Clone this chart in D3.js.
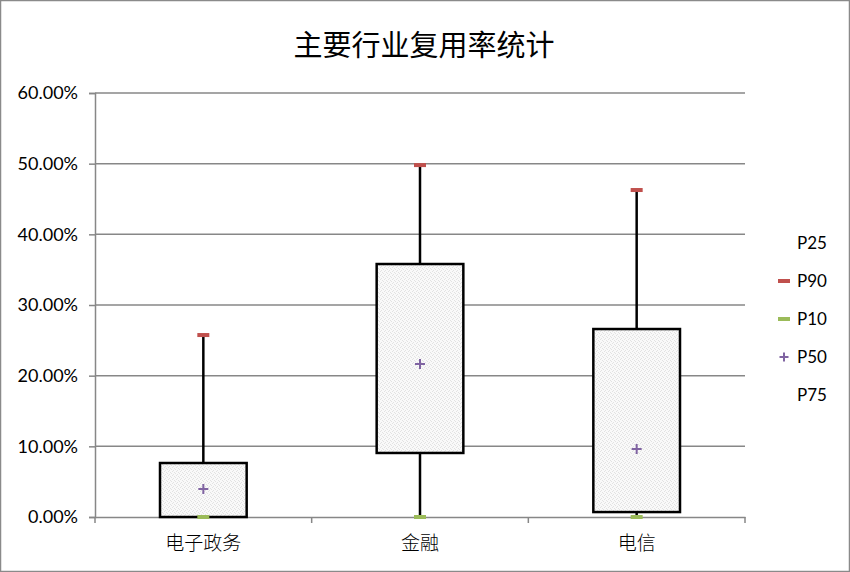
<!DOCTYPE html>
<html>
<head>
<meta charset="utf-8">
<script src="https://cdn.jsdelivr.net/npm/d3@7"></script>
<style>
  body { margin: 0; background: #fff; }
  svg { display: block; }
</style>
</head>
<body>
<div id="chart"></div>
<script>
// Chart data
const categories = ["电子政务", "金融", "电信"];
const p10 = [0.0000, 0.0000, 0.0000];
const p25 = [0.0000, 0.0906, 0.0070];
const p50 = [0.0396, 0.2165, 0.0962];
const p75 = [0.0764, 0.3580, 0.2660];
const p90 = [0.2575, 0.4980, 0.4627];
const yTicks = [0, 0.1, 0.2, 0.3, 0.4, 0.5, 0.6];
const legendNames = ["P25", "P90", "P10", "P50", "P75"];

const W = 850, H = 572;
const margin = { top: 93, right: 105, bottom: 55, left: 95 };
const width = W - margin.left - margin.right,
      height = H - margin.top - margin.bottom;

const cjk = "'Noto Sans CJK SC', 'Noto Sans', sans-serif";
const latin = "Lato, 'Open Sans', sans-serif";

const svgRoot = d3.select("#chart").append("svg")
    .attr("width", W)
    .attr("height", H);

// stippled fill for the boxes
const pat = svgRoot.append("defs").append("pattern")
    .attr("id", "stipple")
    .attr("width", 4).attr("height", 4)
    .attr("patternUnits", "userSpaceOnUse");
pat.append("rect").attr("width", 4).attr("height", 4).attr("fill", "#f9f9f9");
[[0, 0], [2, 1], [1, 2], [3, 3]].forEach(p => {
    pat.append("rect").attr("x", p[0]).attr("y", p[1])
        .attr("width", 1).attr("height", 1).attr("fill", "#e2e2e2");
});

// background and outer border
svgRoot.append("rect")
    .attr("x", 0.5).attr("y", 0.5)
    .attr("width", W - 1).attr("height", H - 1)
    .attr("fill", "#fff")
    .attr("stroke", "#8a8a8a")
    .attr("stroke-width", 1.5);

// title
svgRoot.append("text")
    .attr("x", 424)
    .attr("y", 56)
    .attr("text-anchor", "middle")
    .attr("font-family", cjk)
    .attr("font-size", "29px")
    .attr("fill", "#000")
    .text("主要行业复用率统计");

const svg = svgRoot.append("g")
    .attr("transform", `translate(${margin.left},${margin.top})`);

const x = d3.scaleBand()
    .domain(categories)
    .range([0, width])
    .paddingInner(0)
    .paddingOuter(0);

const y = d3.scaleLinear()
    .domain([0, 0.6])
    .range([height, 0]);

// gridlines
svg.append("g")
    .selectAll("line")
    .data(yTicks.slice(1))
    .join("line")
    .attr("x1", 0).attr("x2", width)
    .attr("y1", d => y(d)).attr("y2", d => y(d))
    .attr("stroke", "#878787")
    .attr("stroke-width", 1.5);

// y axis
const yAxis = svg.append("g")
    .call(d3.axisLeft(y).tickValues(yTicks).tickFormat(d3.format(".2%")).tickSize(6).tickPadding(11));
yAxis.select(".domain").attr("stroke", "#878787").attr("stroke-width", 1.5);
yAxis.selectAll(".tick line").attr("stroke", "#878787").attr("stroke-width", 1.5);
yAxis.selectAll("text")
    .attr("font-family", latin)
    .attr("font-size", "18px")
    .attr("fill", "#000");

// x axis
const xAxis = svg.append("g")
    .attr("transform", `translate(0,${height})`)
    .call(d3.axisBottom(x).tickSize(0).tickPadding(20));
xAxis.select(".domain").attr("stroke", "#878787").attr("stroke-width", 1.5);
xAxis.selectAll("text")
    .attr("font-family", cjk)
    .attr("font-size", "19px")
    .attr("font-weight", 300)
    .attr("fill", "#000");

// category boundary ticks
svg.append("g")
    .selectAll("line")
    .data(categories.map(c => x(c)).concat([width]))
    .join("line")
    .attr("x1", d => d).attr("x2", d => d)
    .attr("y1", height).attr("y2", height + 6)
    .attr("stroke", "#878787")
    .attr("stroke-width", 1.5);

const boxW = x.bandwidth() * 0.4;
const cx = c => x(c) + x.bandwidth() / 2;

const rows = categories.map((c, i) => ({
    cat: c, p10: p10[i], p25: p25[i], p50: p50[i], p75: p75[i], p90: p90[i]
}));

// whiskers
svg.selectAll(".whisker-hi")
    .data(rows)
    .join("line")
    .attr("x1", d => cx(d.cat)).attr("x2", d => cx(d.cat))
    .attr("y1", d => y(d.p75)).attr("y2", d => y(d.p90))
    .attr("stroke", "#000").attr("stroke-width", 2.5);
svg.selectAll(".whisker-lo")
    .data(rows)
    .join("line")
    .attr("x1", d => cx(d.cat)).attr("x2", d => cx(d.cat))
    .attr("y1", d => y(d.p25)).attr("y2", d => y(d.p10))
    .attr("stroke", "#000").attr("stroke-width", 2.5);

// boxes
svg.selectAll(".box")
    .data(rows)
    .join("rect")
    .attr("x", d => cx(d.cat) - boxW / 2)
    .attr("y", d => y(d.p75))
    .attr("width", boxW)
    .attr("height", d => y(d.p25) - y(d.p75))
    .attr("fill", "url(#stipple)")
    .attr("stroke", "#000")
    .attr("stroke-width", 2.5);

// P90 / P10 dash markers
svg.selectAll(".m90")
    .data(rows)
    .join("rect")
    .attr("x", d => cx(d.cat) - 6)
    .attr("y", d => y(d.p90) - 2)
    .attr("width", 12).attr("height", 4)
    .attr("fill", "#c0504d");
svg.selectAll(".m10")
    .data(rows)
    .join("rect")
    .attr("x", d => cx(d.cat) - 6)
    .attr("y", d => y(d.p10) - 2)
    .attr("width", 12).attr("height", 4)
    .attr("fill", "#9bbb59");

// P50 plus markers
const plus = (g, s) => g.append("path")
    .attr("d", `M${-s},0H${s}M0,${-s}V${s}`)
    .attr("stroke", "#8064a2")
    .attr("stroke-width", 2);
svg.selectAll(".m50")
    .data(rows)
    .join("g")
    .attr("transform", d => `translate(${cx(d.cat)},${y(d.p50)})`)
    .each(function() { plus(d3.select(this), 5); });

// legend
const legend = svgRoot.append("g");
legendNames.forEach((name, i) => {
    const ly = 243 + i * 38;
    const g = legend.append("g").attr("transform", `translate(784,${ly})`);
    if (name === "P90" || name === "P10") {
        g.append("rect")
            .attr("x", -6).attr("y", -2)
            .attr("width", 12).attr("height", 4)
            .attr("fill", name === "P90" ? "#c0504d" : "#9bbb59");
    } else if (name === "P50") {
        plus(g, 4.5);
    }
    g.append("text")
        .attr("x", 13)
        .attr("y", 0)
        .attr("dy", "0.35em")
        .attr("font-family", latin)
        .attr("font-size", "17px")
        .attr("fill", "#000")
        .text(name);
});
</script>
</body>
</html>
